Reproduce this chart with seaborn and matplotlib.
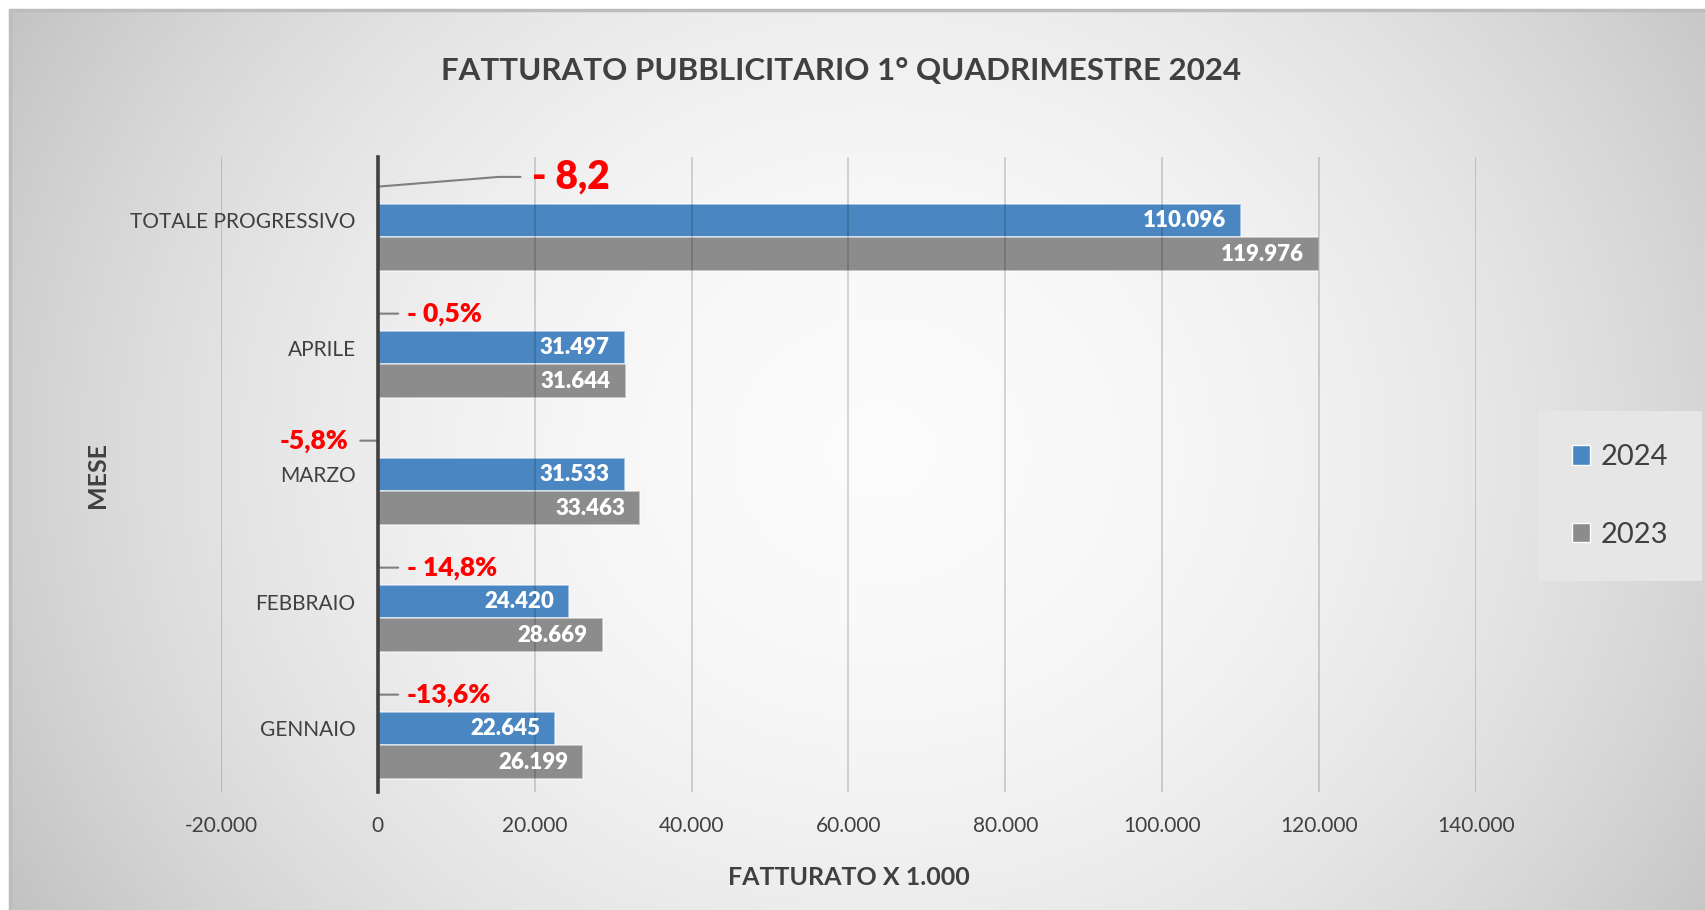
import numpy as np
import pandas as pd
import matplotlib.pyplot as plt
import seaborn as sns
from matplotlib.patches import Patch
from matplotlib.ticker import FuncFormatter

# dati (valori x 1.000)
mesi = ["TOTALE PROGRESSIVO", "APRILE", "MARZO", "FEBBRAIO", "GENNAIO"]
fatturato_2024 = [110096, 31497, 31533, 24420, 22645]
fatturato_2023 = [119976, 31644, 33463, 28669, 26199]
variazioni = ["- 8,2", "- 0,5%", "-5,8%", "- 14,8%", "-13,6%"]
serie = ["var", "2024", "2023"]

BLU = "#4a86c1"
GRIGIO = "#8c8c8c"
TESTO = "#404040"

# serie "var" nascosta: serve solo come segnaposto per le etichette delle variazioni
df = pd.DataFrame({
    "mese": mesi * 3,
    "serie": ["var"] * len(mesi) + ["2024"] * len(mesi) + ["2023"] * len(mesi),
    "valore": [0] * len(mesi) + fatturato_2024 + fatturato_2023,
})

sns.set_theme(style="white")
plt.rcParams["font.family"] = ["Lato", "DejaVu Sans"]

W, H = 1706, 910
fig = plt.figure(figsize=(W / 100, H / 100), dpi=100)

# sfondo sfumato
bg = fig.add_axes([0, 0, 1, 1], zorder=-10)
yy, xx = np.mgrid[0:H, 0:W]
t = ((xx - 880) / 1000) ** 2 + ((yy - 450) / 900) ** 2
shade = np.clip(0.985 - 0.22 * t, 0, 1)
img = np.dstack([shade] * 3)
img[:10, :, :] = 1
img[:, :10, :] = 1
bg.imshow(img, extent=(0, W, H, 0), aspect="auto", interpolation="bilinear")
bg.plot([10, W], [10, 10], color="#bdbdbd", lw=2.5)
bg.plot([10, 10], [10, H], color="#bdbdbd", lw=2.5)
bg.set_xlim(0, W)
bg.set_ylim(H, 0)
bg.axis("off")

ax = fig.add_axes([221 / W, (H - 792) / H, 1255 / W, 635 / H])
ax.set_facecolor("none")

sns.barplot(data=df, x="valore", y="mese", hue="serie", hue_order=serie,
            palette={"var": "white", "2024": BLU, "2023": GRIGIO},
            orient="h", width=0.8, saturation=1, legend=False,
            edgecolor=(1, 1, 1, 0.55), linewidth=1.3, ax=ax)

for bar in ax.containers[0]:
    bar.set_visible(False)

ax.set_xlim(-20000, 140000)
ax.set_xticks(np.arange(-20000, 140001, 20000))
ax.xaxis.set_major_formatter(FuncFormatter(lambda v, p: f"{v:,.0f}".replace(",", ".")))
ax.grid(axis="x", color="black", alpha=0.18, lw=1.2)
ax.grid(axis="y", visible=False)
ax.set_axisbelow(False)

for s in ["top", "right", "bottom"]:
    ax.spines[s].set_visible(False)
ax.spines["left"].set_position(("data", 0))
ax.spines["left"].set_color(TESTO)
ax.spines["left"].set_linewidth(2.6)
ax.spines["left"].set_zorder(4)

ax.tick_params(axis="x", length=0, pad=17, labelsize=15, labelcolor=TESTO)
ax.tick_params(axis="y", length=0, pad=16, labelsize=15, labelcolor=TESTO)

ax.set_xlabel("FATTURATO X 1.000", fontsize=18, fontweight="bold", color=TESTO, va="top")
ax.xaxis.set_label_coords(0.5, -0.117)
ax.set_ylabel("MESE", fontsize=18, fontweight="bold", color=TESTO)
ax.yaxis.set_label_coords(-0.089, 0.5)

# etichette valori dentro le barre
for cont in ax.containers[1:]:
    for bar in cont:
        v = bar.get_width()
        ax.annotate(f"{v:,.0f}".replace(",", "."),
                    xy=(v, bar.get_y() + bar.get_height() / 2),
                    xytext=(-11, 0), textcoords="offset points",
                    ha="right", va="center", color="white",
                    fontsize=16, fontweight="heavy", zorder=5)

# etichette variazioni (sulla serie nascosta)
linea = dict(arrowstyle="-", color="#7f7f7f", lw=1.5, shrinkB=0)
for i, bar in enumerate(ax.containers[0]):
    yc = bar.get_y() + bar.get_height() / 2
    if i == 0:
        ax.annotate(variazioni[i], xy=(0, yc), xytext=(111, 7), textcoords="offset points",
                    ha="left", va="center", color="red", fontsize=28, fontweight="heavy",
                    arrowprops=dict(linea, shrinkA=6, relpos=(0, 0.5),
                                    connectionstyle="angle,angleA=0,angleB=4.6,rad=0"))
    elif i == 2:
        ax.annotate(variazioni[i], xy=(0, yc), xytext=(-21, 0), textcoords="offset points",
                    ha="right", va="center", color="red", fontsize=19, fontweight="heavy",
                    arrowprops=dict(linea, shrinkA=6, relpos=(1, 0.5)))
    else:
        ax.annotate(variazioni[i], xy=(0, yc), xytext=(21, 0), textcoords="offset points",
                    ha="left", va="center", color="red", fontsize=19, fontweight="heavy",
                    arrowprops=dict(linea, shrinkA=4, relpos=(0, 0.5)))

fig.text(841 / W, 1 - 71 / H, "FATTURATO PUBBLICITARIO 1° QUADRIMESTRE 2024",
         ha="center", va="center", fontsize=22.5, fontweight="bold", color=TESTO)

handles = [Patch(facecolor=BLU, edgecolor="white", lw=1), Patch(facecolor=GRIGIO, edgecolor="white", lw=1)]
leg = fig.legend(handles, ["2024", "2023"], loc="center left",
                 bbox_to_anchor=(1538 / W, 1 - 496 / H), frameon=True, fancybox=False,
                 facecolor="#e6e6e6", edgecolor="none", framealpha=1, fontsize=21,
                 handlelength=0.65, handleheight=0.65, handletextpad=0.35,
                 labelspacing=1.75, borderpad=1.15, borderaxespad=0)
for txt in leg.get_texts():
    txt.set_color(TESTO)

fig.savefig("out.png", dpi=100)
